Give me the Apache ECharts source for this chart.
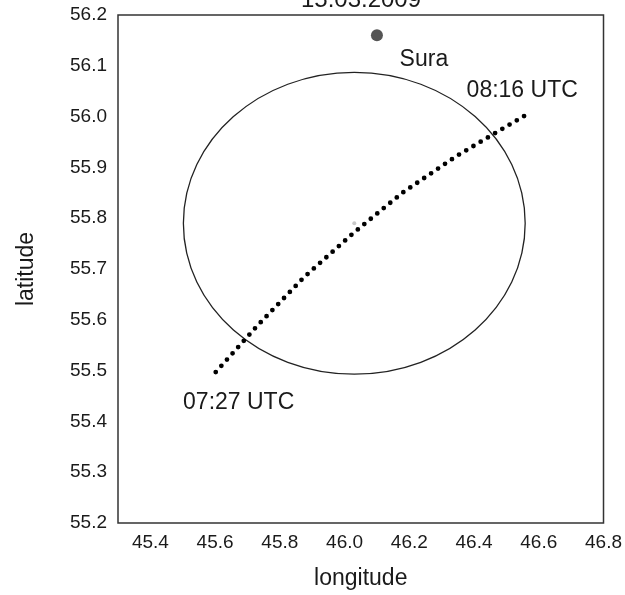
<!DOCTYPE html>
<html>
<head>
<meta charset="utf-8">
<script src="https://cdn.jsdelivr.net/npm/echarts@6/dist/echarts.min.js"></script>
<style>
  html, body { margin: 0; padding: 0; background: #fff; }
  #chart { width: 625px; height: 595px; }
</style>
</head>
<body>
<div id="chart"></div>
<script>
// tick labels
const xTicks = [45.4, 45.6, 45.8, 46.0, 46.2, 46.4, 46.6, 46.8];

// meteor track 07:27 -> 08:16 UTC (lon, lat)
const trackLon = [45.602, 45.730, 45.875, 46.026, 46.123, 46.181, 46.345, 46.498, 46.565];
const trackLat = [55.497, 55.588, 55.684, 55.770, 55.821, 55.851, 55.922, 55.980, 56.005];

// Sura facility
const suraPos = [46.10, 56.16];

// circle: centre and radius (lon deg, lat deg)
const circleCenter = [46.03, 55.79];
const circleRadius = [0.528, 0.297];

const font = 'Liberation Sans, Arial, sans-serif';
const txt = '#1a1a1a';

let myChart = echarts.init(document.getElementById('chart'));

let trackData = trackLon.map((v, i) => [v, trackLat[i]]);

let option = {
  animation: false,
  title: {
    text: '15.03.2009',
    left: 361,
    top: -12,
    padding: 0,
    textAlign: 'center',
    textStyle: { fontSize: 24, fontWeight: 'normal', color: txt, fontFamily: font }
  },
  grid: {
    left: 118,
    right: 21,
    top: 15,
    bottom: 72,
    show: true,
    borderColor: '#333',
    borderWidth: 1.5,
    backgroundColor: '#fff'
  },
  xAxis: {
    type: 'value',
    min: 45.3,
    max: 46.8,
    name: 'longitude',
    nameLocation: 'middle',
    nameGap: 44,
    nameTextStyle: { fontSize: 23, color: txt, fontFamily: font },
    axisLine: { show: false },
    axisTick: { show: false },
    splitLine: { show: false },
    axisLabel: {
      customValues: xTicks,
      margin: 10,
      fontSize: 19,
      color: txt,
      fontFamily: font,
      formatter: v => v.toFixed(1)
    }
  },
  yAxis: {
    type: 'value',
    min: 55.2,
    max: 56.2,
    interval: 0.1,
    name: 'latitude',
    nameLocation: 'middle',
    nameGap: 80,
    nameTextStyle: { fontSize: 23, color: txt, fontFamily: font },
    axisLine: { show: false },
    axisTick: { show: false },
    splitLine: { show: false },
    axisLabel: {
      margin: 11,
      fontSize: 19,
      color: txt,
      fontFamily: font,
      formatter: v => v.toFixed(1)
    }
  },
  series: [
    {
      // circle round the centre point
      type: 'custom',
      data: [[circleCenter[0], circleCenter[1], circleRadius[0], circleRadius[1]]],
      encode: { x: 0, y: 1 },
      renderItem(params, api) {
        let c = api.coord([api.value(0), api.value(1)]);
        let s = api.size([api.value(2), api.value(3)]);
        return {
          type: 'ellipse',
          shape: { cx: c[0], cy: c[1], rx: s[0], ry: s[1] },
          style: { fill: 'none', stroke: '#222', lineWidth: 1.3 }
        };
      },
      silent: true
    },
    {
      // faint centre mark
      type: 'scatter',
      symbolSize: 4,
      itemStyle: { color: '#c8c8c8', opacity: 1 },
      data: [circleCenter],
      silent: true
    },
    {
      // dotted track
      type: 'line',
      data: trackData,
      symbol: 'none',
      smooth: false,
      lineStyle: { color: '#000', width: 4.8, type: [0, 8.4], cap: 'round' },
      silent: true
    },
    {
      // Sura
      type: 'scatter',
      symbolSize: 12,
      itemStyle: { color: '#555', opacity: 1 },
      data: [suraPos],
      silent: true
    },
    {
      // text annotations
      type: 'scatter',
      symbolSize: 0,
      silent: true,
      itemStyle: { opacity: 1 },
      label: {
        show: true,
        position: 'right',
        distance: 0,
        fontSize: 23,
        color: txt,
        fontFamily: font,
        formatter: p => p.name
      },
      data: [
        { name: 'Sura', value: [46.170, 56.113] },
        { name: '08:16 UTC', value: [46.377, 56.052] },
        { name: '07:27 UTC', value: [45.501, 55.436] }
      ]
    }
  ]
};

myChart.setOption(option);
</script>
</body>
</html>
